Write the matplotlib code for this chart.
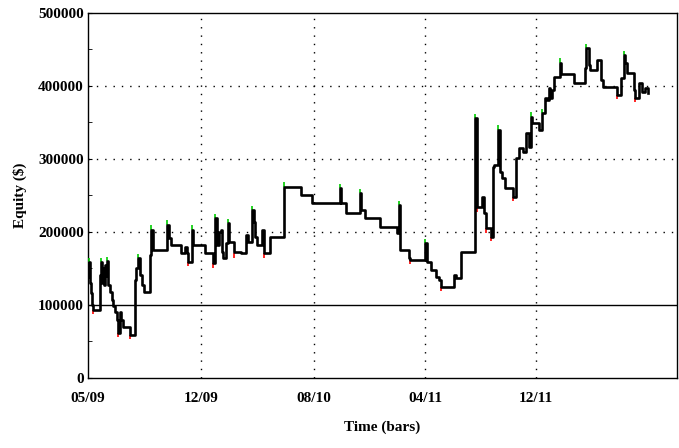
import matplotlib
matplotlib.use("Agg")
import matplotlib.pyplot as plt
from matplotlib.ticker import MultipleLocator

# equity curve (bar index, equity in thousands of $)
bars = [0, 1, 2, 3, 4, 5, 12, 13, 14, 15, 16, 17, 18, 19, 20, 22, 24, 25, 27, 29,
        30, 32, 33, 35, 42, 47, 48, 50, 52, 54, 56, 62, 63, 65, 79, 81, 83, 93, 97, 99,
        100, 104, 105, 117, 125, 127, 129, 131, 133, 134, 135, 138, 140, 141, 146, 153,
        158, 160, 164, 166, 167, 169, 174, 176, 182, 196, 213, 224, 252, 253, 258, 272,
        273, 277, 293, 310, 312, 313, 322, 323, 338, 340, 344, 349, 352, 354, 367, 369,
        374, 388, 390, 395, 397, 399, 404, 406, 407, 411, 413, 415, 418, 426, 429, 432,
        436, 439, 442, 444, 445, 452, 455, 458, 460, 462, 463, 465, 467, 473, 474, 487,
        498, 499, 502, 503, 510, 514, 516, 530, 534, 537, 538, 540, 547, 548, 552, 555,
        558, 561]
equity_k = [138, 159, 130, 116, 100, 93, 141, 159, 130, 150, 128, 155, 140, 160, 127, 118,
            107, 99, 90, 79, 62, 90, 79, 70, 59, 134, 150, 164, 141, 127, 118, 168, 203,
            175, 210, 192, 182, 171, 180, 171, 159, 203, 182, 171, 157, 219, 182, 200, 203,
            173, 164, 185, 212, 186, 173, 171, 196, 186, 230, 214, 193, 182, 203, 171, 193,
            262, 251, 240, 260, 240, 226, 253, 230, 219, 207, 199, 237, 175, 164, 162, 185,
            159, 148, 138, 134, 125, 141, 137, 173, 356, 234, 248, 226, 205, 193, 289, 292,
            340, 282, 274, 260, 248, 301, 315, 310, 336, 316, 358, 349, 340, 363, 384, 381,
            397, 384, 395, 412, 432, 416, 404, 425, 452, 429, 422, 435, 408, 399, 388, 411,
            442, 432, 418, 395, 384, 404, 392, 397, 390]

# intrabar highs (green) and lows (red)
high_bars = [1, 13, 19, 50, 63, 79, 104, 127, 140, 164, 196, 252, 272, 312, 338, 388,
             411, 444, 455, 473, 499, 537]
high_k = [159, 159, 160, 164, 203, 210, 203, 219, 212, 230, 262, 260, 253, 237, 185, 356,
          340, 358, 363, 432, 452, 442]
low_bars = [5, 30, 42, 100, 125, 146, 176, 323, 354, 390, 399, 404, 426, 530, 548]
low_k = [93, 62, 59, 159, 157, 171, 171, 162, 125, 234, 205, 193, 248, 388, 384]

tick_pos = [0, 113, 226, 338, 449]
tick_labels = ["05/09", "12/09", "08/10", "04/11", "12/11"]

font = {"family": "Liberation Serif", "weight": "bold", "size": 11}

fig = plt.figure(figsize=(6.79, 4.48), dpi=100)
ax = fig.add_axes([0.1296, 0.1563, 0.8674, 0.8147])

equity = [v * 1000 for v in equity_k]
ax.axhline(100000, color="black", lw=1, zorder=2)
for x in tick_pos[1:]:
    ax.axvline(x, color="black", lw=1, ls=(0, (1, 5)), zorder=1)
for y in [200000, 300000, 400000]:
    ax.axhline(y, color="black", lw=1, ls=(0, (1, 5)), zorder=1)

ax.vlines(high_bars, [v * 1000 for v in high_k], [v * 1000 + 6000 for v in high_k],
          color="#00cc00", lw=1.2, zorder=3)
ax.vlines(low_bars, [v * 1000 - 6000 for v in low_k], [v * 1000 for v in low_k],
          color="#ff0000", lw=1.2, zorder=3)
ax.plot(bars, equity, drawstyle="steps-post", color="black", lw=1.9, zorder=4)

ax.set_xlim(0, 590)
ax.set_ylim(0, 500000)
ax.set_xticks(tick_pos)
ax.set_xticklabels(tick_labels, fontdict=font)
ax.yaxis.set_major_locator(MultipleLocator(100000))
ax.yaxis.set_minor_locator(MultipleLocator(50000))
ax.set_yticklabels([str(int(v)) for v in ax.get_yticks()], fontdict=font)
ax.tick_params(axis="x", length=0, pad=10)
ax.tick_params(axis="y", which="both", direction="in", length=3, pad=3)
for s in ax.spines.values():
    s.set_linewidth(1)

ax.set_xlabel("Time (bars)", fontdict=font, labelpad=11)
ax.set_ylabel("Equity ($)", fontdict=font, labelpad=8)

fig.savefig("out.png", dpi=100)
